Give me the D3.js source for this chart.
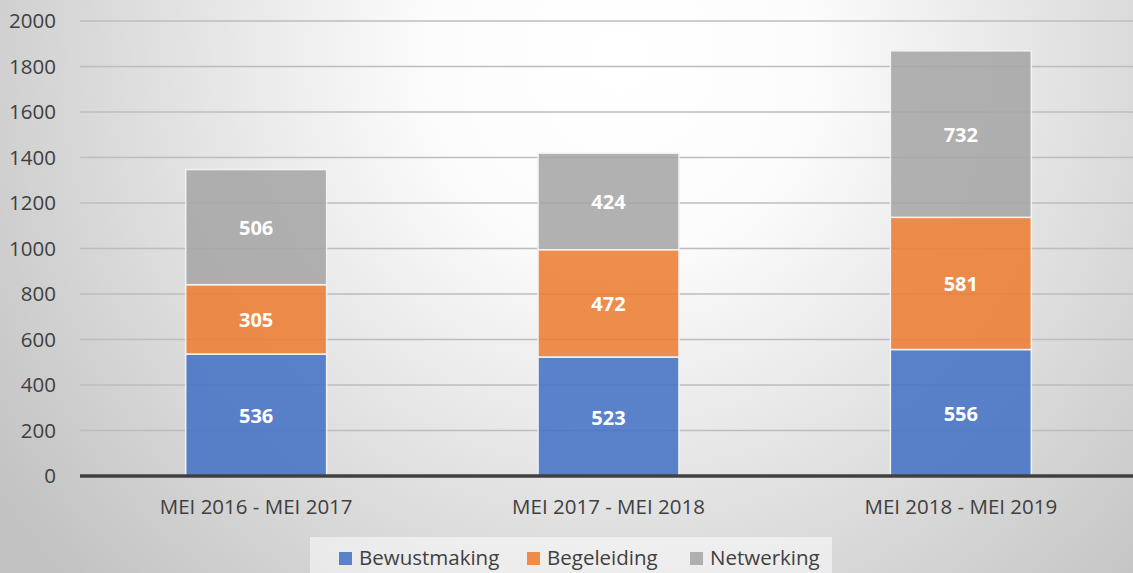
<!DOCTYPE html>
<html>
<head>
<meta charset="utf-8">
<script src="https://cdn.jsdelivr.net/npm/d3@7"></script>
<style>
  body{margin:0;padding:0;overflow:hidden;}
  svg{display:block;font-family:"Open Sans","Noto Sans",sans-serif;}
</style>
</head>
<body>
<div id="chart"></div>
<script>
// data
var periods = ["MEI 2016 - MEI 2017","MEI 2017 - MEI 2018","MEI 2018 - MEI 2019"];
var seriesNames = ["Bewustmaking","Begeleiding","Netwerking"];
var bewustmaking = [536,523,556];
var begeleiding = [305,472,581];
var netwerking = [506,424,732];
var yTicks = [0,200,400,600,800,1000,1200,1400,1600,1800,2000];
var colors = ["#4472C4","#ED7D31","#A5A5A5"];

var W = 1133, H = 573;
var svg = d3.select("#chart").append("svg").attr("width",W).attr("height",H);

var defs = svg.append("defs");
var grad = defs.append("radialGradient").attr("id","bg")
    .attr("gradientUnits","userSpaceOnUse")
    .attr("cx",620).attr("cy",60).attr("r",760);
grad.append("stop").attr("offset","0%").attr("stop-color","#ffffff");
grad.append("stop").attr("offset","25%").attr("stop-color","#fcfcfc");
grad.append("stop").attr("offset","100%").attr("stop-color","#c2c2c2");
svg.append("rect").attr("width",W).attr("height",H).attr("fill","url(#bg)");

var x = d3.scaleBand().domain(periods).range([80,1137]).paddingInner(0.6).paddingOuter(0.3);
var y = d3.scaleLinear().domain([0,2000]).range([476,21]);

// gridlines
svg.append("g").selectAll("line").data(yTicks.filter(function(d){return d>0;}))
  .enter().append("line")
  .attr("x1",80).attr("x2",W)
  .attr("y1",function(d){return y(d);}).attr("y2",function(d){return y(d);})
  .attr("stroke","#bdbdbd").attr("stroke-width",1.5);

// y labels
svg.append("g").selectAll("text").data(yTicks).enter().append("text")
  .attr("x",56).attr("y",function(d){return y(d);}).attr("dy","0.35em")
  .attr("text-anchor","end").attr("font-size",20.5).attr("fill","#404040")
  .text(function(d){return d;});

// stacked data
var rows = periods.map(function(p,i){
  return {period:p, Bewustmaking:bewustmaking[i], Begeleiding:begeleiding[i], Netwerking:netwerking[i]};
});
var stack = d3.stack().keys(seriesNames)(rows);

var layers = svg.append("g").selectAll("g").data(stack).enter().append("g")
  .attr("fill",function(d,i){return colors[i];});
layers.selectAll("rect").data(function(d){return d;}).enter().append("rect")
  .attr("x",function(d){return x(d.data.period);})
  .attr("width",x.bandwidth())
  .attr("y",function(d){return y(d[1]);})
  .attr("height",function(d){return y(d[0])-y(d[1]);})
  .attr("fill-opacity",0.87)
  .attr("stroke","#f2f2f2").attr("stroke-width",1.5);

layers.selectAll("text").data(function(d){return d;}).enter().append("text")
  .attr("x",function(d){return x(d.data.period)+x.bandwidth()/2;})
  .attr("y",function(d){return (y(d[0])+y(d[1]))/2 + 1;})
  .attr("dy","0.35em").attr("text-anchor","middle")
  .attr("font-size",20).attr("font-weight","bold").attr("fill","#ffffff")
  .text(function(d){return d[1]-d[0];});

// axis line
svg.append("line").attr("x1",80).attr("x2",W).attr("y1",y(0)).attr("y2",y(0))
  .attr("stroke","#404040").attr("stroke-width",3.5);

// x labels
svg.append("g").selectAll("text").data(periods).enter().append("text")
  .attr("x",function(d){return x(d)+x.bandwidth()/2;})
  .attr("y",507).attr("dy","0.35em").attr("text-anchor","middle")
  .attr("font-size",20.5).attr("fill","#404040")
  .text(function(d){return d;});

// legend
svg.append("rect").attr("x",310).attr("y",537).attr("width",522).attr("height",40)
  .attr("fill","#ffffff").attr("fill-opacity",0.5);
var legX = [339,527,690];
var leg = svg.append("g").selectAll("g").data(seriesNames).enter().append("g")
  .attr("transform",function(d,i){return "translate("+legX[i]+",558)";});
leg.append("rect").attr("x",0).attr("y",-6).attr("width",13).attr("height",13)
  .attr("fill",function(d,i){return colors[i];}).attr("fill-opacity",0.87);
leg.append("text").attr("x",20).attr("dy","0.35em").attr("font-size",20.5).attr("fill","#404040")
  .text(function(d){return d;});
</script>
</body>
</html>
